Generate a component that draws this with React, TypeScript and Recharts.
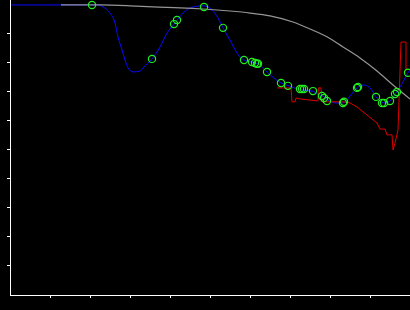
import React from "react";
import { ComposedChart, Line, Scatter, XAxis, YAxis } from "recharts";

// Model curve (blue)
const blueX = [0, 2.175, 2.325, 2.5, 2.625, 2.7, 2.8, 2.875, 2.95, 3.075, 3.25, 3.325, 3.55, 3.75, 3.925, 4.125, 4.325, 4.575, 4.825, 5.05, 5.2, 5.325, 5.5, 5.675, 5.85, 6.05, 6.2, 6.425, 6.6, 6.775, 6.975, 7.15, 7.3, 7.55, 7.7, 7.85, 7.975, 8.15, 8.325, 8.5, 8.675, 8.85, 8.975, 9.075, 9.15, 9.25, 9.35, 9.5, 9.65, 9.8, 9.95, 10.0];
const blueY = [10.0, 10.0, 9.93, 9.72, 9.38, 8.9, 8.45, 8.1, 7.83, 7.69, 7.72, 7.83, 8.14, 8.55, 9.03, 9.38, 9.72, 9.93, 9.97, 9.83, 9.55, 9.21, 8.79, 8.34, 8.1, 8.03, 7.97, 7.69, 7.48, 7.31, 7.21, 7.12, 7.07, 7.03, 6.93, 6.83, 6.69, 6.62, 6.62, 6.86, 7.14, 7.24, 7.17, 7.0, 6.83, 6.69, 6.62, 6.69, 6.97, 7.28, 7.66, 7.76];

// Observations (green circles)
const obsX = [2.05, 3.55, 4.1, 4.175, 4.85, 5.325, 5.85, 6.05, 6.125, 6.175, 6.2, 6.425, 6.775, 6.95, 7.25, 7.3, 7.35, 7.575, 7.8, 7.85, 7.925, 8.325, 8.35, 8.675, 8.7, 9.15, 9.3, 9.35, 9.5, 9.625, 9.675, 9.95];
const obsY = [10.0, 8.14, 9.34, 9.48, 9.93, 9.21, 8.1, 8.03, 8.0, 7.97, 7.97, 7.69, 7.31, 7.21, 7.1, 7.1, 7.1, 7.03, 6.86, 6.79, 6.69, 6.62, 6.66, 7.14, 7.17, 6.83, 6.62, 6.62, 6.69, 6.93, 7.0, 7.66];

// Envelope (gray)
const grayX = [1.275, 2.25, 3.0, 3.575, 4.25, 4.825, 5.5, 6.0, 6.5, 7.075, 7.5, 7.925, 8.325, 8.75, 9.175, 9.575, 10.0];
const grayY = [10.0, 10.0, 9.97, 9.93, 9.9, 9.86, 9.79, 9.72, 9.62, 9.41, 9.17, 8.9, 8.55, 8.17, 7.72, 7.24, 6.76];

// Second series (red)
const redX = [6.675, 7.025, 7.05, 7.125, 7.15, 7.25, 7.7, 7.71, 7.775, 7.8, 8.325, 8.5, 8.675, 9.175, 9.25, 9.375, 9.425, 9.55, 9.575, 9.625, 9.7, 9.775, 9.9, 9.9];
const redY = [7.14, 7.14, 6.66, 6.66, 6.79, 6.76, 6.69, 7.14, 7.14, 6.66, 6.66, 6.62, 6.48, 5.93, 5.72, 5.72, 5.52, 5.52, 5.0, 5.24, 5.69, 8.72, 8.72, 7.76];

const xTicks = [1, 2, 3, 4, 5, 6, 7, 8, 9];
const yTicks = [1, 2, 3, 4, 5, 6, 7, 8, 9];

const zip = (xs: number[], ys: number[]) => xs.map((x, i) => ({ x, y: ys[i] }));
const blueData = zip(blueX, blueY);
const obsData = zip(obsX, obsY);
const grayData = zip(grayX, grayY);
const redData = zip(redX, redY);

const Ring = (props: any) => {
  const { cx, cy } = props;
  if (cx == null || cy == null) return null;
  return <circle cx={cx} cy={cy} r={3.6} fill="none" stroke="#22ee22" strokeWidth={1.2} />;
};

const NoLabel = () => <g />;

const lineProps: any = { stroke: "#fff", strokeWidth: 1, shapeRendering: "crispEdges" };

export default function App() {
  return (
    <div style={{ position: "absolute", left: 0, top: 0, width: 410, height: 310, background: "#000" }}>
      <ComposedChart width={410} height={310} margin={{ top: 0, right: 0, bottom: 0, left: 0 }}>
        <XAxis
          type="number"
          dataKey="x"
          domain={[0, 10]}
          ticks={xTicks}
          allowDataOverflow
          height={15}
          tick={NoLabel}
          tickSize={3}
          stroke="#fff"
          axisLine={lineProps}
          tickLine={lineProps}
        />
        <YAxis
          type="number"
          dataKey="y"
          domain={[0, 10.17]}
          ticks={yTicks}
          allowDataOverflow
          width={10}
          tick={NoLabel}
          tickSize={3}
          stroke="#fff"
          axisLine={lineProps}
          tickLine={lineProps}
        />
        <Line data={blueData} dataKey="y" type="monotone" stroke="#0a0aff" strokeWidth={1} dot={false} isAnimationActive={false} />
        <Line data={grayData} dataKey="y" type="monotone" stroke="#959595" strokeWidth={1.2} dot={false} isAnimationActive={false} />
        <Line data={redData} dataKey="y" type="linear" stroke="#dd0000" strokeWidth={1} dot={false} isAnimationActive={false} />
        <Scatter data={obsData} dataKey="y" shape={Ring} isAnimationActive={false} />
      </ComposedChart>
    </div>
  );
}
